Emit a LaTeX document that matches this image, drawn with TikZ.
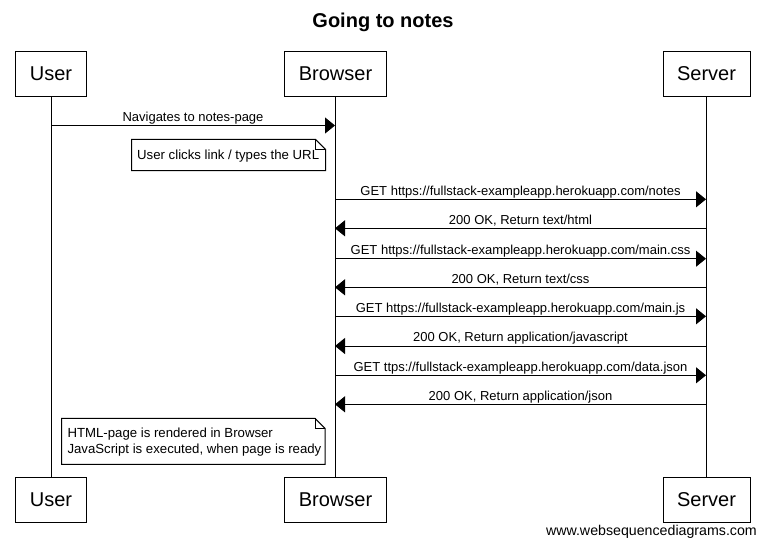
\documentclass[tikz,border=0pt]{standalone}
\usepackage{fontspec}
\setmainfont{Liberation Sans}
\usetikzlibrary{arrows.meta}
\begin{document}
\begin{tikzpicture}[x=1pt,y=-1pt,
  actor/.style={draw,line width=1pt,inner sep=0pt,font=\fontsize{20}{24}\selectfont},
  life/.style={line width=1pt},
  msg/.style={line width=1pt,-{Triangle[length=10pt,width=16pt]}},
  lbl/.style={anchor=base,inner sep=0pt,font=\fontsize{13}{15}\selectfont},
  notetxt/.style={anchor=base west,inner sep=0pt,font=\fontsize{13.2}{15}\selectfont}]
\useasboundingbox[fill=white] (0,0) rectangle (765,547);
\node[anchor=base,font=\bfseries\fontsize{20}{24}\selectfont] (title) at (383,27.3) {Going to notes};
% participant boxes
\node[actor,minimum width=71pt,minimum height=45pt] (ut) at (51,74) {User};
\node[actor,minimum width=102pt,minimum height=45pt] (bt) at (335.5,74) {Browser};
\node[actor,minimum width=87pt,minimum height=45pt] (st) at (706.5,74) {Server};
\node[actor,minimum width=71pt,minimum height=45pt] (ub) at (51,500) {User};
\node[actor,minimum width=102pt,minimum height=45pt] (bb) at (335.5,500) {Browser};
\node[actor,minimum width=87pt,minimum height=45pt] (sb) at (706.5,500) {Server};
% lifelines
\draw[life] (ut.south) -- (ub.north);
\draw[life] (bt.south) -- (bb.north);
\draw[life] (st.south) -- (sb.north);
% messages
\coordinate (m1a) at (51,125.5); \coordinate (m1b) at (335,125.5);
\draw[msg] (m1a) -- (m1b);
\node[lbl] (l1) at (193,121) {Navigates to notes-page};
% note 1
\draw[line width=1pt,fill=white] (131.5,139.3) -- (315.5,139.3) -- (325.5,149.3) -- (325.5,170.5) -- (131.5,170.5) -- cycle;
\draw[line width=1pt] (315.5,139.3) -- (315.5,149.3) -- (325.5,149.3);
\node[notetxt] (n1) at (137,159.5) {User clicks link / types the URL};
% requests / responses
\foreach \y/\dir/\t in {
  199.3/r/{GET https://fullstack-exampleapp.herokuapp.com/notes},
  228.3/l/{200 OK, Return text/html},
  258.7/r/{GET https://fullstack-exampleapp.herokuapp.com/main.css},
  287.3/l/{200 OK, Return text/css},
  316.3/r/{GET https://fullstack-exampleapp.herokuapp.com/main.js},
  346/l/{200 OK, Return application/javascript},
  375.3/r/{GET ttps://fullstack-exampleapp.herokuapp.com/data.json},
  404.3/l/{200 OK, Return application/json}} {
  \coordinate (pb) at (335,\y); \coordinate (ps) at (706,\y);
  \if r\dir \draw[msg] (pb) -- (ps); \else \draw[msg] (ps) -- (pb); \fi
  \node[lbl] at (520.5,\y-4.3) {\t};
}
% note 2
\draw[line width=1pt,fill=white] (61.5,418.3) -- (315,418.3) -- (325,428.3) -- (325,464.3) -- (61.5,464.3) -- cycle;
\draw[line width=1pt] (315,418.3) -- (315,428.3) -- (325,428.3);
\node[notetxt] (n2a) at (67.3,437.7) {HTML-page is rendered in Browser};
\node[notetxt] (n2b) at (67.3,453.3) {JavaScript is executed, when page is ready};
% footer
\node[anchor=base east,inner sep=0pt,font=\fontsize{14.2}{16}\selectfont] (foot) at (757,535) {www.websequencediagrams.com};
\end{tikzpicture}
\end{document}
